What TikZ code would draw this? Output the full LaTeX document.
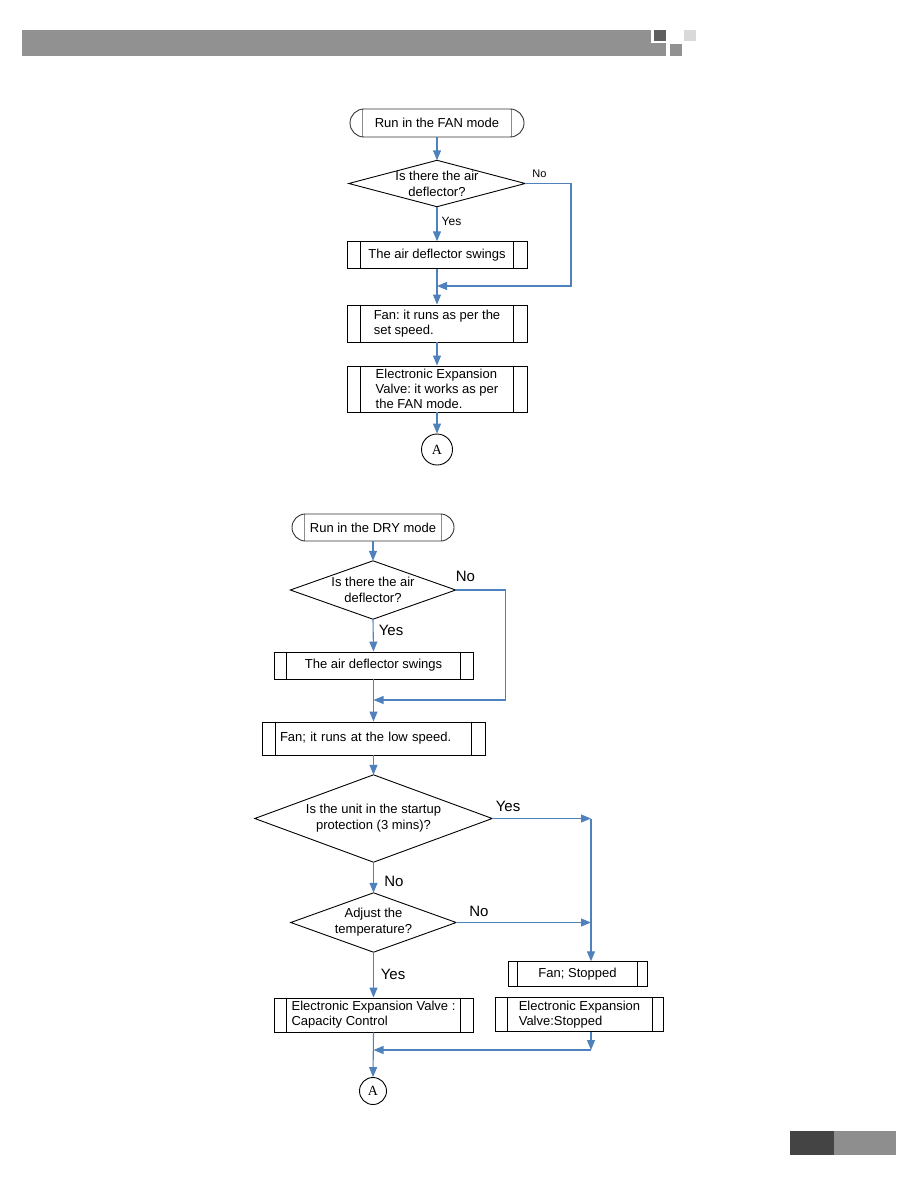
\documentclass[tikz,border=0pt]{standalone}
\usepackage{fontspec}
\setmainfont{Liberation Sans}
\newfontfamily\letterfont{Liberation Serif}
\usepackage{tikz}
\usetikzlibrary{arrows.meta, positioning, shapes.misc, calc}
\definecolor{flowblue}{RGB}{79,129,189}
\definecolor{bargray}{RGB}{145,145,145}
\definecolor{bardark}{RGB}{95,95,95}
\definecolor{barlight}{RGB}{217,217,217}
\definecolor{footdark}{RGB}{68,68,68}
\definecolor{footlight}{RGB}{142,142,142}
\frenchspacing

\tikzset{
  txt/.style={font=\fontsize{13}{15}\selectfont},
  proc/.style={draw, line width=0.9pt, rectangle, inner sep=0pt, txt, align=left,
    append after command={\pgfextra{\draw[line width=0.9pt]
      ([xshift=#1]\tikzlastnode.north west) -- ([xshift=#1]\tikzlastnode.south west)
      ([xshift=-#1]\tikzlastnode.north east) -- ([xshift=-#1]\tikzlastnode.south east);}}},
  terminal/.style={rounded rectangle, draw=black!80, line width=0.9pt, inner sep=0pt, txt,
    append after command={\pgfextra{\draw[black!45, line width=0.9pt]
      ($(\tikzlastnode.west |- \tikzlastnode.north)+(#1,0)$) -- ($(\tikzlastnode.west |- \tikzlastnode.south)+(#1,0)$)
      ($(\tikzlastnode.east |- \tikzlastnode.north)+(-#1,0)$) -- ($(\tikzlastnode.east |- \tikzlastnode.south)+(-#1,0)$);}}},
  decision/.style={rectangle, inner sep=0pt, align=center, font=\fontsize{13}{16}\selectfont,
    append after command={\pgfextra{\draw[line width=0.9pt]
      (\tikzlastnode.west) -- (\tikzlastnode.north) -- (\tikzlastnode.east) -- (\tikzlastnode.south) -- cycle;}}},
  conn/.style={circle, draw, line width=0.9pt, inner sep=0pt, font=\letterfont\fontsize{14}{14}\selectfont},
  flow/.style={draw=flowblue, line width=1.1pt, -{Triangle[length=10pt, width=8pt]}},
  lblsmall/.style={font=\fontsize{11}{11}\selectfont},
  lblmid/.style={font=\fontsize{12}{12}\selectfont},
  lblbig/.style={font=\fontsize{15}{15}\selectfont}
}

\begin{document}
\begin{tikzpicture}[x=1pt, y=-1pt]

    \useasboundingbox (0,0) rectangle (918,1188);

    % page header and footer
    \fill[bargray] (22,30) rectangle (666,56);
    \fill[white] (651,28) rectangle (669,43);
    \fill[bardark] (654,30) rectangle (666,41);
    \fill[barlight] (684,30) rectangle (696,41);
    \fill[bargray] (670,44) rectangle (682,56);
    \fill[footdark] (790,1131) rectangle (834,1155);
    \fill[footlight] (834,1131) rectangle (896,1155);

    % FAN mode
    \node[terminal=13pt, minimum width=174pt, minimum height=28pt] (fanstart) at (437,123) {Run in the FAN mode};
    \node[decision, minimum width=176pt, minimum height=46pt] (fanq) at (437,183.5) {Is there the air\\deflector?};
    \node[proc=14pt, minimum width=180pt, minimum height=26.5pt] (fanswing) at (437,255) {The air deflector swings};
    \node[proc=14pt, minimum width=180pt, minimum height=37pt] (fanset) at (437,323.5) {Fan: it runs as per the\\set speed.};
    \node[proc=14pt, minimum width=180pt, minimum height=46pt] (faneev) at (437,389) {Electronic Expansion\\Valve: it works as per\\the FAN mode.};
    \node[conn, minimum size=31pt] (fanA) at (437,449.5) {A};

    \coordinate (fanmerge) at (437,286);
    \coordinate (fanturn) at (571,183.5);

    \draw[flow] (fanstart.south) -- (fanq.north);
    \draw[flow] (fanq.south) -- (fanswing.north);
    \draw[flow] (fanq.east) -- (fanturn) |- (fanmerge);
    \draw[flow] (fanswing.south) -- (fanset.north);
    \draw[flow] (fanset.south) -- (faneev.north);
    \draw[flow] (faneev.south) -- (fanA.north);

    \node[lblsmall] (fanno) at (539.5,174) {No};
    \node[lblmid] (fanyes) at (451.5,221) {Yes};

    % DRY mode
    \node[terminal=13pt, minimum width=162pt, minimum height=27pt] (drystart) at (373,527.5) {Run in the DRY mode};
    \node[decision, minimum width=165pt, minimum height=58pt] (dryq) at (373,590) {Is there the air\\deflector?};
    \node[proc=13pt, minimum width=199pt, minimum height=27pt] (dryswing) at (373.5,665.5) {The air deflector swings};
    \node[proc=14pt, minimum width=223pt, minimum height=33pt, text width=187pt] (drylow) at (373.5,738.5) {Fan; it runs at the low speed.};
    \node[decision, minimum width=237pt, minimum height=87pt] (dryprot) at (373.5,818.5) {Is the unit in the startup\\protection (3 mins)?};
    \node[decision, minimum width=165pt, minimum height=59pt] (drytemp) at (373.5,922.5) {Adjust the\\temperature?};
    \node[proc=13pt, minimum width=199pt, minimum height=34pt] (drycap) at (373.5,1015) {Electronic Expansion Valve :\\Capacity Control};
    \node[proc=10pt, minimum width=139pt, minimum height=24.5pt, align=center] (dryfanstop) at (577.5,974) {Fan; Stopped};
    \node[proc=12pt, minimum width=168pt, minimum height=34pt] (dryeevstop) at (579.5,1014.5) {Electronic Expansion\\Valve:Stopped};
    \node[conn, minimum size=27pt] (dryA) at (373,1091) {A};

    \coordinate (drymerge) at (373.5,700);
    \coordinate (dryturn) at (505.5,590);
    \coordinate (dryyesturn) at (591,818.5);
    \coordinate (dryjoin) at (591,1050);

    \draw[flow] (drystart.south) -- (dryq.north);
    \draw[flow] (dryq.south) -- (dryswing.north);
    \draw[flow] (dryq.east) -- (dryturn) |- (drymerge);
    \draw[flow] (dryswing.south) -- (drylow.north);
    \draw[flow] (drylow.south) -- (dryprot.north);
    \draw[flow] (dryprot.east) -- (dryyesturn);
    \draw[flow] (dryyesturn) -- (dryyesturn |- dryfanstop.north);
    \draw[flow] (dryprot.south) -- (drytemp.north);
    \draw[flow] (drytemp.east) -- (drytemp.east -| dryyesturn);
    \draw[flow] (drytemp.south) -- (drycap.north);
    \draw[flow] (dryjoin |- dryeevstop.south) -- (dryjoin);
    \draw[flow] (dryjoin) -- (dryjoin -| drycap);
    \draw[flow] (drycap.south) -- (dryA.north);

    \node[lblbig] (dryno) at (465.5,576) {No};
    \node[lblbig] (dryyes) at (391,630) {Yes};
    \node[lblbig] (protyes) at (508,806.5) {Yes};
    \node[lblbig] (protno) at (394,881) {No};
    \node[lblbig] (tempno) at (479,911.5) {No};
    \node[lblbig] (tempyes) at (393,974) {Yes};

\end{tikzpicture}
\end{document}
